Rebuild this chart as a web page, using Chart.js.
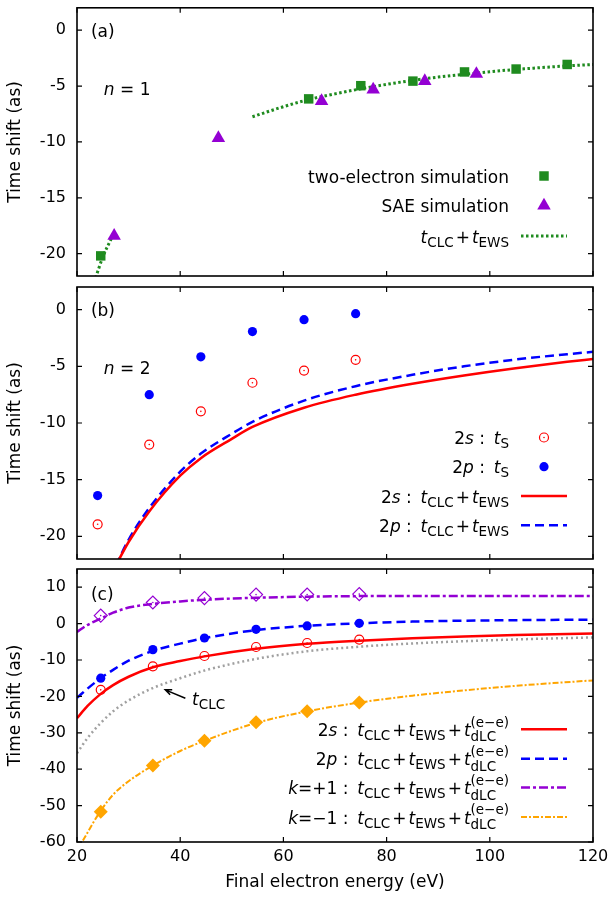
<!DOCTYPE html>
<html>
<head>
<meta charset="utf-8">
<script src="https://cdn.jsdelivr.net/npm/chart.js@4.4.1/dist/chart.umd.min.js"></script>
<style>
  html, body { margin: 0; padding: 0; background: #fff; }
  #wrap { position: relative; width: 611px; height: 901px; }
  #wrap canvas { position: absolute; left: 0; top: 0; }
</style>
</head>
<body>
<div id="wrap">
  <canvas id="panelA" width="611" height="901"></canvas>
  <canvas id="panelB" width="611" height="901"></canvas>
  <canvas id="panelC" width="611" height="901"></canvas>
</div>
<script>
const FONT = '"DejaVu Sans", sans-serif';

// axes
const xTicks = [20, 40, 60, 80, 100, 120];
const yTicksAB = [-20, -15, -10, -5, 0];
const yTicksC = [-60, -50, -40, -30, -20, -10, 0, 10];

// (a) n = 1
const aTwoElE = [24.6, 64.9, 75.0, 85.1, 95.1, 105.1, 115.0];
const aTwoElT = [-20.2, -6.15, -4.97, -4.56, -3.74, -3.48, -3.07];
const aSaeE = [27.2, 47.4, 67.4, 77.4, 87.4, 97.4];
const aSaeT = [-18.4, -9.65, -6.35, -5.32, -4.56, -3.92];
const aTheoE = [23.3, 25.0, 26.7, 40, 54, 60, 65, 70, 75, 80, 85, 90, 95, 100, 105, 110, 115, 120];
const aTheoT = [-22.6, -20.3, -18.6, null, -7.75, -6.85, -6.2, -5.7, -5.25, -4.85, -4.5, -4.2, -3.95, -3.72, -3.52, -3.35, -3.2, -3.07];

// (b) n = 2
const bE = [24, 34, 44, 54, 64, 74];
const b2sT = [-18.94, -11.9, -8.97, -6.45, -5.37, -4.43];
const b2pT = [-16.4, -7.5, -4.16, -1.93, -0.88, -0.35];
const bCurveE = [27.5, 30, 34, 40, 44, 50, 54, 64, 74, 85, 95, 105, 115, 120];
const b2sCurve = [-22.6, -20.5, -17.8, -14.65, -13.1, -11.4, -10.35, -8.65, -7.5, -6.53, -5.8, -5.16, -4.6, -4.35];
const b2pCurve = [-22.6, -20.3, -17.5, -14.3, -12.7, -10.95, -9.9, -8.03, -6.75, -5.75, -5.0, -4.4, -3.93, -3.72];

// (c) with dLC correction
const cE = [24.6, 34.7, 44.7, 54.7, 64.6, 74.7];
const c2sT = [-18.2, -11.75, -8.9, -6.43, -5.33, -4.4];
const c2pT = [-15.0, -7.15, -3.95, -1.57, -0.65, 0.08];
const cKplusT = [2.2, 5.8, 7.0, 7.97, 8.0, 8.1];
const cKminusT = [-51.7, -39.0, -32.2, -27.1, -24.1, -21.7];
const cCurveE = [20, 22, 24.6, 27, 30, 34.7, 40, 44.7, 54.7, 64.6, 74.7, 85, 95, 105, 120];
const c2sCurve = [-26.0, -22.7, -19.3, -16.9, -14.6, -12.0, -10.3, -9.0, -6.9, -5.55, -4.7, -4.05, -3.55, -3.15, -2.75];
const c2pCurve = [-20.4, -17.9, -15.0, -12.7, -10.2, -7.5, -5.5, -4.0, -1.8, -0.6, 0.1, 0.55, 0.8, 0.95, 1.1];
const cKplusCurve = [-2.3, -0.4, 1.4, 3.0, 4.4, 5.4, 6.1, 6.55, 7.1, 7.4, 7.55, 7.6, 7.6, 7.6, 7.55];
const cKminusCurve = [-62.5, -57.5, -51.4, -47.0, -43.3, -39.0, -35.0, -32.2, -27.3, -24.1, -21.7, -19.8, -18.35, -17.1, -15.6];
const cClcCurve = [-35.6, -31.5, -27.3, -24.1, -21.1, -17.7, -15.0, -12.9, -9.7, -7.6, -6.35, -5.45, -4.85, -4.35, -3.8];

const GREEN = '#1f8b1f', PURPLE = '#9400d3', RED = '#ff0000', BLUE = '#0000ff', ORANGE = '#ffa500', GREY = '#a0a0a0';

const pts = (xs, ys) => xs.map((x, i) => ({ x: x, y: ys[i] }));

function curve(xs, ys, color, width, dash) {
  return {
    data: pts(xs, ys), showLine: true, borderColor: color, borderWidth: width,
    borderDash: dash || [], pointRadius: 0, cubicInterpolationMode: 'monotone',
    spanGaps: false, clip: 0, borderCapStyle: 'butt'
  };
}
function marks(xs, ys, style, r, fill, stroke, bw) {
  return {
    data: pts(xs, ys), showLine: false, pointStyle: style, pointRadius: r,
    backgroundColor: fill, borderColor: stroke, borderWidth: bw, clip: false
  };
}

// ---- drawing helpers ----
function partFont(k) {
  if (k === 'i') return 'italic 17px ' + FONT;
  if (k === 'sub' || k === 'sup' || k === 'stack') return '13.5px ' + FONT;
  return '17px ' + FONT;
}
function partWidth(ctx, p) {
  if (p[1] === 'gap') return p[0];
  if (p[1] === 'stack') {
    ctx.font = partFont('stack');
    return Math.max(ctx.measureText(p[0]).width, ctx.measureText(p[2]).width);
  }
  ctx.font = partFont(p[1]);
  return ctx.measureText(p[0]).width;
}
function drawRich(ctx, parts, x, y, align) {
  ctx.save();
  ctx.fillStyle = '#000';
  ctx.textBaseline = 'alphabetic';
  ctx.textAlign = 'left';
  const total = parts.reduce((s, p) => s + partWidth(ctx, p), 0);
  let cx = align === 'right' ? x - total : x;
  parts.forEach(p => {
    const w = partWidth(ctx, p);
    if (p[1] !== 'gap') {
      ctx.font = partFont(p[1]);
      if (p[1] === 'stack') {
        ctx.fillText(p[0], cx, y - 2.8);
        ctx.fillText(p[2], cx, y + 12);
      } else if (p[1] === 'sub') {
        ctx.fillText(p[0], cx, y + 10.5);
      } else if (p[1] === 'sup') {
        ctx.fillText(p[0], cx, y - 2.8);
      } else {
        ctx.fillText(p[0], cx, y + 6.5);
      }
    }
    cx += w;
  });
  ctx.restore();
}
function drawMark(ctx, style, r, x, y) {
  ctx.beginPath();
  if (style === 'circle') {
    ctx.arc(x, y, r, 0, Math.PI * 2);
  } else if (style === 'rect') {
    const s = r * Math.SQRT1_2;
    ctx.rect(x - s, y - s, 2 * s, 2 * s);
  } else if (style === 'triangle') {
    const h = r * Math.sin(Math.PI / 3);
    ctx.moveTo(x, y - r); ctx.lineTo(x + h, y + r / 2); ctx.lineTo(x - h, y + r / 2);
    ctx.closePath();
  } else if (style === 'rectRot') {
    ctx.moveTo(x, y - r); ctx.lineTo(x + r, y); ctx.lineTo(x, y + r); ctx.lineTo(x - r, y);
    ctx.closePath();
  }
  ctx.fill();
  ctx.stroke();
}

// frame with inward ticks on all four sides
const framePlugin = {
  id: 'frame',
  afterDatasetsDraw(chart, args, o) {
    const { ctx, chartArea: a, scales: { x, y } } = chart;
    ctx.save();
    ctx.strokeStyle = '#000';
    ctx.lineWidth = 1.2;
    ctx.beginPath();
    xTicks.forEach(v => {
      const p = x.getPixelForValue(v);
      ctx.moveTo(p, a.bottom); ctx.lineTo(p, a.bottom - 5);
      ctx.moveTo(p, a.top); ctx.lineTo(p, a.top + 5);
    });
    o.yTicks.forEach(v => {
      const p = y.getPixelForValue(v);
      ctx.moveTo(a.left, p); ctx.lineTo(a.left + 5, p);
      ctx.moveTo(a.right, p); ctx.lineTo(a.right - 5, p);
    });
    ctx.stroke();
    ctx.lineWidth = 1.6;
    ctx.strokeRect(a.left, a.top, a.right - a.left, a.bottom - a.top);
    ctx.restore();
  }
};

// key with sub/superscripts, samples taken from the datasets' own styles
const keyPlugin = {
  id: 'key',
  afterDraw(chart, args, o) {
    const { ctx, chartArea: a } = chart;
    o.items.forEach(it => {
      drawRich(ctx, it.text, a.right - 84, it.y, 'right');
      const ds = chart.data.datasets[it.ds];
      ctx.save();
      if (ds.showLine) {
        ctx.strokeStyle = ds.borderColor;
        ctx.lineWidth = ds.borderWidth;
        ctx.setLineDash(ds.borderDash || []);
        ctx.beginPath();
        ctx.moveTo(a.right - 72, it.y); ctx.lineTo(a.right - 26, it.y);
        ctx.stroke();
      } else {
        ctx.fillStyle = ds.backgroundColor;
        ctx.strokeStyle = ds.borderColor;
        ctx.lineWidth = ds.borderWidth || 0.001;
        drawMark(ctx, ds.pointStyle, ds.pointRadius, a.right - 49, it.y);
        if (it.dot !== undefined) {
          const d = chart.data.datasets[it.dot];
          ctx.fillStyle = d.backgroundColor;
          ctx.beginPath(); ctx.arc(a.right - 49, it.y, d.pointRadius, 0, Math.PI * 2); ctx.fill();
        }
      }
      ctx.restore();
    });
  }
};

// panel labels and annotations placed in data coordinates
const notesPlugin = {
  id: 'notes',
  afterDraw(chart, args, o) {
    const { ctx, scales: { x, y } } = chart;
    (o.texts || []).forEach(t => {
      drawRich(ctx, t.text, x.getPixelForValue(t.x), y.getPixelForValue(t.y), 'left');
    });
    (o.arrows || []).forEach(ar => {
      const x1 = x.getPixelForValue(ar.from[0]), y1 = y.getPixelForValue(ar.from[1]);
      const x2 = x.getPixelForValue(ar.to[0]), y2 = y.getPixelForValue(ar.to[1]);
      const ang = Math.atan2(y2 - y1, x2 - x1);
      ctx.save();
      ctx.strokeStyle = '#000'; ctx.lineWidth = 1.5;
      ctx.beginPath();
      ctx.moveTo(x1, y1); ctx.lineTo(x2, y2);
      ctx.moveTo(x2 - 7 * Math.cos(ang - 0.4), y2 - 7 * Math.sin(ang - 0.4));
      ctx.lineTo(x2, y2);
      ctx.lineTo(x2 - 7 * Math.cos(ang + 0.4), y2 - 7 * Math.sin(ang + 0.4));
      ctx.stroke();
      ctx.restore();
    });
  }
};

const PLOT_RIGHT = 593, PLOT_LEFT = 77, H = 901;

function makePanel(id, top, bottom, yMin, yMax, yTicks, datasets, keyItems, notes, showX) {
  return new Chart(document.getElementById(id), {
    type: 'scatter',
    data: { datasets: datasets },
    options: {
      responsive: false,
      animation: false,
      events: [],
      layout: { padding: { left: 0, right: 611 - PLOT_RIGHT, top: top, bottom: showX ? 0 : H - bottom } },
      plugins: {
        legend: { display: false },
        tooltip: { enabled: false },
        frame: { yTicks: yTicks },
        key: { items: keyItems },
        notes: notes
      },
      scales: {
        x: {
          type: 'linear', min: 20, max: 120, position: 'bottom', display: showX,
          grid: { display: false, drawTicks: false },
          border: { display: false },
          afterBuildTicks: s => { s.ticks = xTicks.map(v => ({ value: v })); },
          afterFit: s => {
            if (showX) s.height = H - bottom;
            s.paddingLeft = 0; s.paddingRight = 0;
          },
          ticks: { padding: 5.5, color: '#000', font: { family: FONT, size: 16 }, maxRotation: 0, autoSkip: false },
          title: {
            display: showX, text: 'Final electron energy (eV)', color: '#000',
            font: { family: FONT, size: 17 }, padding: { top: 0, bottom: 8 }
          }
        },
        y: {
          type: 'linear', min: yMin, max: yMax, position: 'left',
          grid: { display: false, drawTicks: false },
          border: { display: false },
          afterBuildTicks: s => { s.ticks = yTicks.map(v => ({ value: v })); },
          afterFit: s => { s.width = PLOT_LEFT; s.paddingTop = 0; s.paddingBottom = 0; },
          ticks: { padding: 11, color: '#000', font: { family: FONT, size: 16 }, autoSkip: false },
          title: {
            display: true, text: 'Time shift (as)', color: '#000',
            font: { family: FONT, size: 17 }, padding: { top: 5.5, bottom: 0 }
          }
        }
      }
    },
    plugins: [framePlugin, keyPlugin, notesPlugin]
  });
}

const T = ['t', 'i'];
const PLUS = [[2, 'gap'], ['+', 'n'], [2, 'gap']];
const COLON = [' :\u2009 ', 'n'];
const clcEws = [T, ['CLC', 'sub']].concat(PLUS, [T, ['EWS', 'sub']]);
const dlc = PLUS.concat([T, ['(e\u2212e)', 'stack', 'dLC']]);

// panel (a)
makePanel('panelA', 3, 276, -22, 2, yTicksAB, [
  marks(aTwoElE, aTwoElT, 'rect', 6.7, GREEN, GREEN, 0),
  marks(aSaeE, aSaeT, 'triangle', 7.8, PURPLE, PURPLE, 0),
  curve(aTheoE, aTheoT, GREEN, 3, [2.5, 2.5])
], [
  { text: [['two-electron simulation', 'n']], ds: 0, y: 176 },
  { text: [['SAE simulation', 'n']], ds: 1, y: 205.5 },
  { text: clcEws, ds: 2, y: 236 }
], {
  texts: [
    { x: 22.7, y: 0, text: [['(a)', 'n']] },
    { x: 25.2, y: -5.2, text: [['n', 'i'], [' = 1', 'n']] }
  ]
}, false);

// panel (b)
makePanel('panelB', 287, 559, -22, 2, yTicksAB, [
  marks(bE, b2sT, 'circle', 4.5, 'rgba(0,0,0,0)', RED, 1.2),
  marks(bE, b2sT, 'circle', 0.8, RED, RED, 0),
  marks(bE, b2pT, 'circle', 4.6, BLUE, BLUE, 0),
  curve(bCurveE, b2sCurve, RED, 2.5),
  curve(bCurveE, b2pCurve, BLUE, 2.5, [9, 5])
], [
  { text: [['2', 'n'], ['s', 'i'], COLON, T, ['S', 'sub']], ds: 0, dot: 1, y: 437.5 },
  { text: [['2', 'n'], ['p', 'i'], COLON, T, ['S', 'sub']], ds: 2, y: 466.7 },
  { text: [['2', 'n'], ['s', 'i'], COLON].concat(clcEws), ds: 3, y: 496 },
  { text: [['2', 'n'], ['p', 'i'], COLON].concat(clcEws), ds: 4, y: 525.3 }
], {
  texts: [
    { x: 22.7, y: 0, text: [['(b)', 'n']] },
    { x: 25.2, y: -5.1, text: [['n', 'i'], [' = 2', 'n']] }
  ]
}, false);

// panel (c)
makePanel('panelC', 569, 842, -60, 15, yTicksC, [
  marks(cE, c2sT, 'circle', 4.5, 'rgba(0,0,0,0)', RED, 1.2),
  marks(cE, c2sT, 'circle', 0.8, RED, RED, 0),
  marks(cE, c2pT, 'circle', 4.6, BLUE, BLUE, 0),
  marks(cE, cKplusT, 'rectRot', 6.5, 'rgba(0,0,0,0)', PURPLE, 1.2),
  marks(cE, cKplusT, 'circle', 0.8, PURPLE, PURPLE, 0),
  marks(cE, cKminusT, 'rectRot', 7, ORANGE, ORANGE, 0),
  curve(cCurveE, c2sCurve, RED, 2.5),
  curve(cCurveE, c2pCurve, BLUE, 2.5, [9, 5]),
  curve(cCurveE, cKplusCurve, PURPLE, 2.5, [9, 3, 3, 3]),
  curve(cCurveE, cKminusCurve, ORANGE, 2, [6, 2, 2, 2]),
  curve(cCurveE, cClcCurve, GREY, 2.5, [2, 3])
], [
  { text: [['2', 'n'], ['s', 'i'], COLON].concat(clcEws, dlc), ds: 6, y: 729.3 },
  { text: [['2', 'n'], ['p', 'i'], COLON].concat(clcEws, dlc), ds: 7, y: 758.7 },
  { text: [['k', 'i'], ['=+1 :\u2009 ', 'n']].concat(clcEws, dlc), ds: 8, y: 787.5 },
  { text: [['k', 'i'], ['=\u22121 :\u2009 ', 'n']].concat(clcEws, dlc), ds: 9, y: 817 }
], {
  texts: [
    { x: 22.7, y: 8.4, text: [['(c)', 'n']] },
    { x: 42.3, y: -20.5, text: [T, ['CLC', 'sub']] }
  ],
  arrows: [{ from: [41.0, -20.5], to: [37.1, -18.2] }]
}, true);
</script>
</body>
</html>
